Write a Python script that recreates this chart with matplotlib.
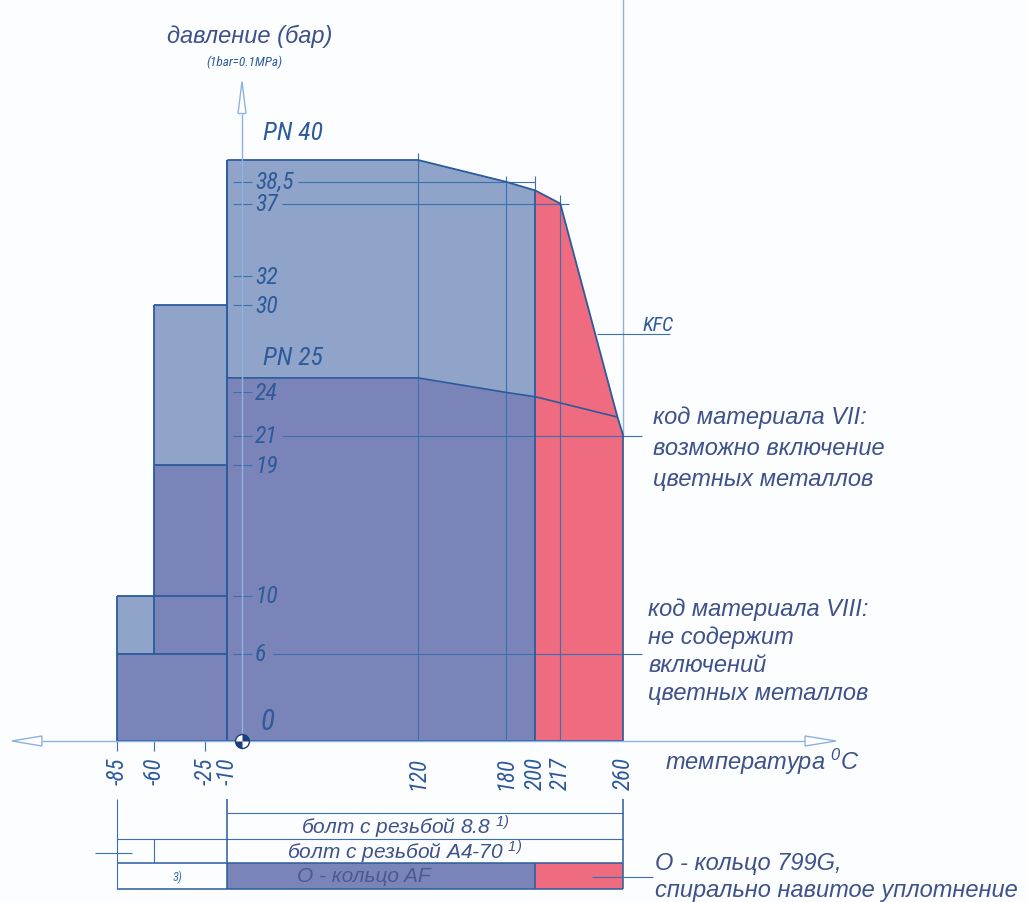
import matplotlib
matplotlib.use("Agg")
import matplotlib.pyplot as plt
from matplotlib.path import Path
from matplotlib.patches import Polygon

# values (temperature in °C, pressure in bar)
temp_ticks = [-85, -60, -25, -10, 120, 180, 200, 217, 260]
press_ticks = [38.5, 37, 32, 30, 24, 21, 19, 10, 6]
press_labels = ["38,5", "37", "32", "30", "24", "21", "19", "10", "6"]

pn40_t = [-10, 120, 180, 200, 217, 256, 260]
pn40_p = [40, 40, 38.5, 37.9, 37, 22.3, 21]
pn25_t = [-10, 120, 180, 200, 256]
pn25_p = [25, 25, 24, 23.7, 22.3]

low_t = [-85, -60, -10]
low_dark = [6, 19]
low_light = [10, 30]

seal_split = 200   # O-ring AF up to here, 799G / spiral wound above
t_max = 260

# colours
DARK = "#7b84b8"
LIGHT = "#8fa4c8"
PINK = "#ee6b80"
EDGE = "#2a5c9c"
THIN = "#3b70b0"
AXIS = "#8cb2e0"
TXT = "#3e5189"
NUM = "#2d5a9a"

NARROW = ["Roboto Condensed", "Liberation Sans", "DejaVu Sans"]
SANS = ["Liberation Sans", "DejaVu Sans"]
plt.rcParams["mathtext.fontset"] = "custom"
plt.rcParams["mathtext.rm"] = "Liberation Sans:italic"
plt.rcParams["mathtext.it"] = "Liberation Sans:italic"

W, H = 1029, 903
fig = plt.figure(figsize=(W / 100, H / 100), dpi=100, facecolor="#fcfdff")
ax = fig.add_axes([0, 0, 1, 1])
ax.set_axis_off()
# 0 °C at x=242 px, 0 bar at y=742 px
KX, KY = 1.4667, 14.525
ax.set_xlim(-242 / KX, (W - 242) / KX)
ax.set_ylim((742 - H) / KY, 742 / KY)
PX = 1 / KX   # one pixel in °C
PY = 1 / KY   # one pixel in bar


def poly(pts, fc, z=1):
    ax.add_patch(Polygon(pts, closed=True, facecolor=fc, edgecolor="none", zorder=z))


def line(xs, ys, c=THIN, lw=0.8, z=3):
    ax.plot(xs, ys, color=c, lw=lw, zorder=z, solid_capstyle="butt")


def num(x, y, s, size, color=NUM, **kw):
    ax.text(x, y, s, fontsize=size, style="italic", weight="normal",
            family=NARROW, color=color, **kw)


i200 = pn40_t.index(seal_split)
j200 = pn25_t.index(seal_split)

# light (PN 40) area and low temperature boxes
poly([(pn40_t[0], 0)] + list(zip(pn40_t[:i200 + 1], pn40_p[:i200 + 1])) + [(seal_split, 0)], LIGHT)
poly([(low_t[0], 0), (low_t[0], low_light[0]), (low_t[1], low_light[0]), (low_t[1], 0)], LIGHT)
poly([(low_t[1], 0), (low_t[1], low_light[1]), (low_t[2], low_light[1]), (low_t[2], 0)], LIGHT)

# dark (PN 25) area
dark_pts = [(low_t[0], 0), (low_t[0], low_dark[0]), (low_t[1], low_dark[0]),
            (low_t[1], low_dark[1]), (low_t[2], low_dark[1])]
dark_pts += list(zip(pn25_t[:j200 + 1], pn25_p[:j200 + 1])) + [(seal_split, 0)]
poly(dark_pts, DARK, 2)

# pink area
poly([(seal_split, 0)] + list(zip(pn40_t[i200:], pn40_p[i200:])) + [(t_max, 0)], PINK, 2)

# thin guide lines
line([120, 120], [0, 40.5])
line([180, 180], [0, 38.9])
line([200, 200], [37.9, 38.9])
line([217, 217], [0, 37.6])
line([t_max, t_max], [21, 742 / KY], c=AXIS, lw=1.0)
for p in press_ticks:
    line([-6, 7], [p, p])
line([38, 200], [38.5, 38.5])
line([27, 223], [37, 37])
line([27, 273], [21, 21])
line([21, 273], [6, 6])

# borders
line(pn40_t, pn40_p, c=EDGE, lw=1.3, z=4)
line(pn25_t, pn25_p, c=EDGE, lw=1.2, z=4)
line([-10, -10], [0, 40], c=EDGE, lw=1.4, z=4)
line([200, 200], [0, 37.9], c=EDGE, lw=1.3, z=4)
line([t_max, t_max], [0, 21], c=EDGE, lw=1.2, z=4)
line([-85, t_max], [0, 0], c=EDGE, lw=1.3, z=4)
line([-85, -85], [0, low_light[0]], c=EDGE, lw=1.3, z=4)
line([-60, -60], [low_dark[0], low_light[1]], c=EDGE, lw=1.3, z=4)
line([-85, -10], [low_light[0], low_light[0]], c=EDGE, lw=1.3, z=4)
line([-85, -10], [low_dark[0], low_dark[0]], c=EDGE, lw=1.3, z=4)
line([-60, -10], [low_dark[1], low_dark[1]], c=EDGE, lw=1.3, z=4)
line([-60, -10], [low_light[1], low_light[1]], c=EDGE, lw=1.3, z=4)

# axes with open arrows
line([-136.4, 383.9], [0, 0], c=AXIS, lw=1.0, z=5)
line([0, 0], [-0.55, 43.2], c=AXIS, lw=1.0, z=5)
ax.add_patch(Polygon([(-136.4, 5 * PY), (-156.8, 0), (-136.4, -5 * PY)], closed=True,
                     facecolor="white", edgecolor=AXIS, lw=1.0, zorder=5))
ax.add_patch(Polygon([(383.9, 5 * PY), (405.0, 0), (383.9, -5 * PY)], closed=True,
                     facecolor="white", edgecolor=AXIS, lw=1.0, zorder=5))
ax.add_patch(Polygon([(-4 * PX, 43.2), (0, 45.4), (4 * PX, 43.2)], closed=True,
                     facecolor="white", edgecolor=AXIS, lw=1.0, zorder=5))
for t in [-85, -60, -25]:
    line([t, t], [0, -0.7], c=THIN, lw=0.8)

# origin marker
ax.plot([0], [0], marker="o", ms=10, mfc="white", mec="#1d3f78", mew=1.0, zorder=6)
for a0 in (0, 180):
    ax.plot([0], [0], marker=Path.wedge(a0, a0 + 90), ms=10, mfc="#1d3f78", mec="none", zorder=7)

# tick labels
for t in temp_ticks:
    num(t, -1.05, str(t), 16.5, rotation=90, ha="center", va="top")
for p, lab in zip(press_ticks, press_labels):
    num(9, p, lab, 17, ha="left", va="center", zorder=6)
num(13, 1.4, "0", 21, ha="left", va="center", zorder=6)
num(14, 41.1, "PN 40", 18.5, ha="left", va="bottom")
num(14, 25.6, "PN 25", 18.5, ha="left", va="bottom", zorder=6)
num(273, 28.0, "KFC", 14.5, ha="left", va="bottom")
line([242, 292], [28, 28], c=THIN, lw=0.8)

# axis titles
ax.text(-51, 48.6, "давление (бар)", ha="left", va="center", fontsize=17,
        style="italic", family=SANS, color=TXT)
num(-24, 46.8, "(1bar=0.1MPa)", 9.5, ha="left", va="center")
ax.text(288.5, -1.35, r"температура $^{0}$C", ha="left", va="center", fontsize=17,
        style="italic", family=SANS, color=TXT)

# notes on the right
ax.text(280, 23.12, "код материала VII:\nвозможно включение\nцветных металлов",
        ha="left", va="top", fontsize=17, style="italic", family=SANS, color=TXT,
        linespacing=1.44)
ax.text(277, 9.91, "код материала VIII:\nне содержит\nвключений\nцветных металлов",
        ha="left", va="top", fontsize=17, style="italic", family=SANS, color=TXT,
        linespacing=1.27)

# bottom table
r0, r1, r2, r3 = (742 - 814) / KY, (742 - 840) / KY, (742 - 864) / KY, (742 - 890) / KY
top = (742 - 800) / KY
poly([(-10, r2), (-10, r3), (seal_split, r3), (seal_split, r2)], DARK, 2)
poly([(seal_split, r2), (seal_split, r3), (t_max, r3), (t_max, r2)], PINK, 2)
line([-10, t_max], [r0, r0])
line([-85, t_max], [r1, r1])
line([-85, t_max], [r2, r2], c=EDGE, lw=1.1)
line([-85, t_max], [r3, r3], c=EDGE, lw=1.1)
line([-85, -85], [top, r3])
line([-10, -10], [top, r3], c=EDGE, lw=1.1)
line([t_max, t_max], [top, r3], c=EDGE, lw=1.1)
line([-60, -60], [r1, r2])
line([seal_split, seal_split], [r2, r3], c=EDGE, lw=1.1)
line([-100, -75], [(742 - 854) / KY] * 2)
line([238.6, 280], [(742 - 878) / KY] * 2)

ax.text(111, (r0 + r1) / 2, r"болт с резьбой 8.8 $^{1)}$", ha="center", va="center",
        fontsize=15, style="italic", family=SANS, color=TXT)
ax.text(111, (r1 + r2) / 2, r"болт с резьбой A4-70 $^{1)}$", ha="center", va="center",
        fontsize=15, style="italic", family=SANS, color=TXT)
ax.text(83, (r2 + r3) / 2, "О - кольцо AF", ha="center", va="center",
        fontsize=15, style="italic", family=SANS, color="#4c5a8c", zorder=6)
num(-44, (r2 + r3) / 2, "3)", 9, color=THIN, ha="center", va="center")
ax.text(281.5, (742 - 852) / KY, "О - кольцо 799G,\nспирально навитое уплотнение",
        ha="left", va="top", fontsize=17, style="italic", family=SANS, color=TXT,
        linespacing=1.24)

fig.savefig("out.png", dpi=100, facecolor=fig.get_facecolor())
